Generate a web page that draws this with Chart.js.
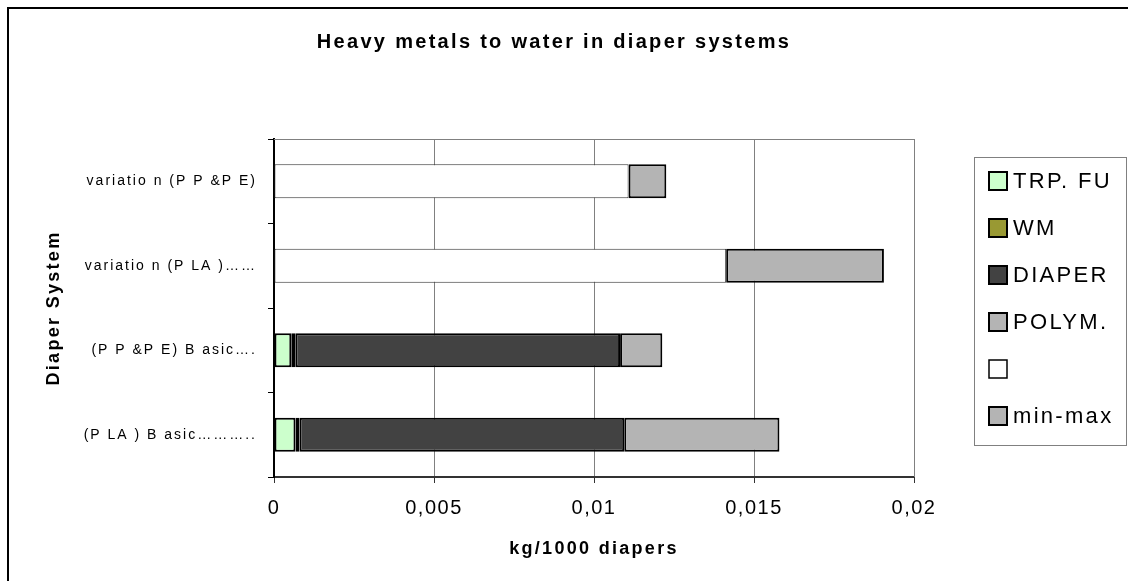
<!DOCTYPE html>
<html>
<head>
<meta charset="utf-8">
<script src="https://cdn.jsdelivr.net/npm/chart.js@4.4.1/dist/chart.umd.min.js"></script>
<style>
  html, body { margin: 0; padding: 0; background: #fff; }
  #c { display: block; }
</style>
</head>
<body>
<canvas id="c" width="1128" height="581"></canvas>
<script>
// ---- data ----
const categories = ['variatio n (P P &P E)', 'variatio n (P LA )……', '(P P &P E) B asic….', '(P LA ) B asic………..'];
const seriesNames = ['TRP. FU', 'WM', 'DIAPER', 'POLYM.', '', 'min-max'];
const trpFu   = [null, null, 0.00054, 0.00067];
const wm      = [null, null, 0.000125, 0.000125];
const diaper  = [null, null, 0.01015, 0.01015];
const polym   = [null, null, 0.00132, 0.00485];
const blank   = [0.01108, 0.01413, null, null];
const minMax  = [0.00118, 0.00493, null, null];
const xTickLabels = ['0', '0,005', '0,01', '0,015', '0,02'];

const FONT = "'Liberation Sans', Arial, sans-serif";

// letter spacing by font size/weight (the reference text is widely tracked)
const spacingMap = { 'n14': 2, 'b18': 2.3, 'b20': 2.3, 'n20': 1.5, 'n22': 2.3 };
function spacingFor(font) {
  const m = /(\d+(?:\.\d+)?)px/.exec(font || '');
  if (!m) return 0;
  const key = (/bold/.test(font) ? 'b' : 'n') + Math.round(parseFloat(m[1]));
  return spacingMap[key] || 0;
}
const P = CanvasRenderingContext2D.prototype;
const origFill = P.fillText, origMeasure = P.measureText;
P.fillText = function (t, x, y, mw) {
  this.letterSpacing = spacingFor(this.font) + 'px';
  return mw === undefined ? origFill.call(this, t, x, y) : origFill.call(this, t, x, y, mw);
};
P.measureText = function (t) {
  this.letterSpacing = spacingFor(this.font) + 'px';
  return origMeasure.call(this, t);
};

const colors = ['#CCFFCC', '#999933', '#424242', '#B4B4B4', '#FFFFFF', '#B4B4B4'];
const seriesData = [trpFu, wm, diaper, polym, blank, minMax];

const datasets = seriesNames.map((name, i) => ({
  label: name,
  data: seriesData[i],
  backgroundColor: colors[i],
  borderColor: i === 4 ? '#333333' : '#000000',
  borderWidth: i === 4 ? 1 : 2,
  borderSkipped: false,
  barPercentage: 0.4,
  categoryPercentage: 1.0
}));

const framePlugin = {
  id: 'frame',
  beforeDraw(chart) {
    const ctx = chart.ctx;
    ctx.save();
    ctx.fillStyle = '#ffffff';
    ctx.fillRect(0, 0, chart.width, chart.height);
    ctx.restore();
  },
  beforeDatasetsDraw(chart) {
    const { ctx, chartArea: a } = chart;
    ctx.save();
    ctx.strokeStyle = '#808080';
    ctx.lineWidth = 1;
    ctx.beginPath();
    ctx.moveTo(a.left, a.top + 0.5);
    ctx.lineTo(a.right + 0.5, a.top + 0.5);
    ctx.lineTo(a.right + 0.5, a.bottom);
    ctx.stroke();
    ctx.restore();
  },
  afterDraw(chart) {
    const ctx = chart.ctx;
    ctx.save();
    // outer chart frame (left and top edges visible)
    ctx.fillStyle = '#000000';
    ctx.fillRect(7, 7, 2, chart.height - 7);
    ctx.fillRect(7, 7, chart.width - 7, 2);
    // legend
    ctx.strokeStyle = '#808080';
    ctx.lineWidth = 1;
    ctx.strokeRect(974.5, 157.5, 152, 288);
    ctx.font = '22px ' + FONT;
    ctx.textBaseline = 'middle';
    ctx.textAlign = 'left';
    chart.data.datasets.forEach((ds, i) => {
      const cy = 181 + 47 * i;
      ctx.fillStyle = ds.backgroundColor;
      ctx.fillRect(989, cy - 9, 18, 18);
      ctx.strokeStyle = '#000000';
      ctx.lineWidth = i === 4 ? 1.5 : 2;
      ctx.strokeRect(989, cy - 9, 18, 18);
      ctx.fillStyle = '#000000';
      if (ds.label) ctx.fillText(ds.label, 1013, cy + 1);
    });
    ctx.restore();
  }
};

Chart.defaults.color = '#000000';
Chart.defaults.font.family = FONT;

new Chart(document.getElementById('c'), {
  type: 'bar',
  data: { labels: categories, datasets },
  plugins: [framePlugin],
  options: {
    indexAxis: 'y',
    responsive: false,
    animation: false,
    devicePixelRatio: 1,
    layout: { padding: { left: 10, right: 30, top: 0, bottom: 0 } },
    plugins: {
      legend: { display: false },
      tooltip: { enabled: false },
      title: {
        display: true,
        text: 'Heavy metals to water in diaper systems',
        color: '#000000',
        font: { family: FONT, size: 20, weight: 'bold' },
        padding: { top: 30, bottom: 85 }
      }
    },
    scales: {
      x: {
        stacked: true,
        min: 0,
        max: 0.02,
        afterFit(scale) { scale.height = 104; },
        ticks: {
          stepSize: 0.005,
          padding: 13,
          font: { family: FONT, size: 20 },
          color: '#000000',
          callback: (v, i) => xTickLabels[i]
        },
        grid: { color: '#808080', lineWidth: 1, tickLength: 6, tickColor: '#333333' },
        border: { display: true, color: '#333333', width: 2 },
        title: {
          display: true,
          text: 'kg/1000 diapers',
          color: '#000000',
          font: { family: FONT, size: 18, weight: 'bold' },
          padding: { top: 0, bottom: 21 }
        }
      },
      y: {
        stacked: true,
        afterFit(scale) { scale.width = 264; },
        ticks: {
          padding: 11,
          font: { family: FONT, size: 14 },
          color: '#000000'
        },
        grid: { drawOnChartArea: false, offset: true, tickLength: 6, color: '#000000', tickColor: '#000000' },
        border: { display: true, color: '#000000', width: 2 },
        title: {
          display: true,
          text: 'Diaper System',
          color: '#000000',
          font: { family: FONT, size: 18, weight: 'bold' },
          padding: { top: 33, bottom: 0 }
        }
      },
      legendSpace: {
        type: 'linear',
        position: 'right',
        display: true,
        afterFit(scale) { scale.width = 184; },
        ticks: { display: false },
        grid: { display: false, drawTicks: false },
        border: { display: false }
      }
    }
  }
});
</script>
</body>
</html>
